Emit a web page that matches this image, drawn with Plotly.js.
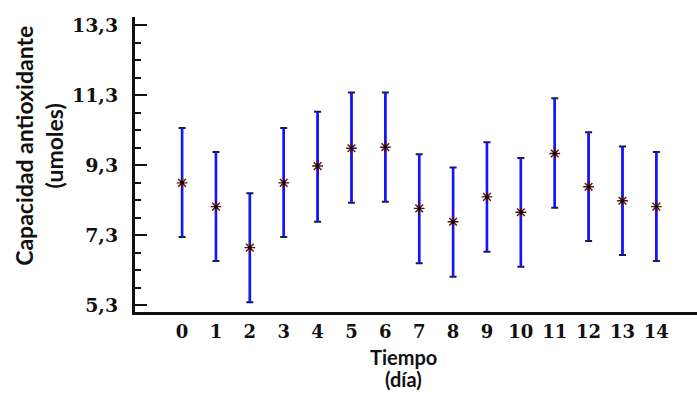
<!DOCTYPE html>
<html>
<head>
<meta charset="utf-8">
<script src="https://cdn.plot.ly/plotly-3.0.1.min.js"></script>
<style>html,body{margin:0;padding:0;background:#fff;}#chart{width:697px;height:393px;}</style>
</head>
<body>
<div id="chart"></div>
<script>
const dias = [0, 1, 2, 3, 4, 5, 6, 7, 8, 9, 10, 11, 12, 13, 14];
const media = [8.79, 8.11, 6.94, 8.79, 9.27, 9.78, 9.81, 8.06, 7.68, 8.39, 7.95, 9.63, 8.68, 8.28, 8.11];
const superior = [10.36, 9.67, 8.49, 10.36, 10.82, 11.37, 11.37, 9.61, 9.23, 9.95, 9.50, 11.21, 10.24, 9.83, 9.67];
const inferior = [7.24, 6.56, 5.38, 7.24, 7.68, 8.22, 8.25, 6.49, 6.11, 6.82, 6.39, 8.08, 7.13, 6.73, 6.56];
const yTickVals = [5.3, 7.3, 9.3, 11.3, 13.3];
const yTickText = ['5,3', '7,3', '9,3', '11,3', '13,3'];
const xTickText = ['0','1','2','3','4','5','6','7','8','9','10','11','12','13','14'];

const plus = media.map((m, i) => superior[i] - m);
const minus = media.map((m, i) => m - inferior[i]);

const capTrace = {
  x: dias, y: media, type: 'scatter', mode: 'markers',
  marker: {size: 1, color: 'rgba(0,0,0,0)'},
  error_y: {type: 'data', symmetric: false, array: plus, arrayminus: minus,
            color: '#1a1a40', thickness: 2, width: 3.5},
  hoverinfo: 'skip', showlegend: false
};
const barTrace = {
  x: dias, y: media, type: 'scatter', mode: 'markers',
  marker: {size: 1, color: 'rgba(0,0,0,0)'},
  error_y: {type: 'data', symmetric: false, array: plus, arrayminus: minus,
            color: '#1414ff', thickness: 2.6, width: 0},
  hoverinfo: 'skip', showlegend: false
};
const meanTrace = {
  x: dias, y: media, type: 'scatter', mode: 'markers',
  marker: {symbol: 'asterisk-open', size: 9, color: '#5a1010', line: {color: '#4a0c0c', width: 1.4}},
  showlegend: false
};
const dotTrace = {
  x: dias, y: media, type: 'scatter', mode: 'markers',
  marker: {symbol: 'circle', size: 3.5, color: '#000'},
  showlegend: false
};

const layout = {
  width: 697, height: 393,
  margin: {l: 135, r: 0, t: 17, b: 81},
  paper_bgcolor: '#fff', plot_bgcolor: '#fff',
  showlegend: false,
  xaxis: {
    range: [-1.39, 15.2], tickvals: dias, ticktext: xTickText,
    showgrid: false, zeroline: false, showline: true, linecolor: '#111', linewidth: 3,
    ticks: '', ticklabelstandoff: 1,
    tickfont: {family: 'DejaVu Serif', size: 18, color: '#111', weight: 'bold'}
  },
  yaxis: {
    range: [5.1, 13.53], tickvals: yTickVals, ticktext: yTickText,
    showgrid: false, zeroline: false, showline: true, linecolor: '#111', linewidth: 3,
    ticks: 'inside', ticklen: 12, tickwidth: 2, tickcolor: '#111', ticklabelstandoff: 10,
    minor: {tickmode: 'linear', tick0: 5.3, dtick: 0.5, ticks: 'inside', ticklen: 6, tickwidth: 2, tickcolor: '#111', showgrid: false},
    tickfont: {family: 'DejaVu Serif', size: 19, color: '#111', weight: 'bold'}
  },
  annotations: [
    {text: 'Capacidad antioxidante<br>(umoles)', xref: 'paper', yref: 'paper',
     x: -0.171, y: 0.563, xanchor: 'center', yanchor: 'middle', textangle: -90, showarrow: false,
     font: {family: 'Lato', size: 23, color: '#111', weight: 'bold'}},
    {text: 'Tiempo', xref: 'paper', yref: 'paper',
     x: 0.4786, y: -0.1525, xanchor: 'center', yanchor: 'middle', showarrow: false,
     font: {family: 'Lato', size: 20, color: '#111', weight: 'bold'}},
    {text: '(día)', xref: 'paper', yref: 'paper',
     x: 0.4786, y: -0.227, xanchor: 'center', yanchor: 'middle', showarrow: false,
     font: {family: 'Lato', size: 20, color: '#111', weight: 'bold'}}
  ]
};

Plotly.newPlot('chart', [capTrace, barTrace, meanTrace, dotTrace], layout, {staticPlot: true, displayModeBar: false});
</script>
</body>
</html>
